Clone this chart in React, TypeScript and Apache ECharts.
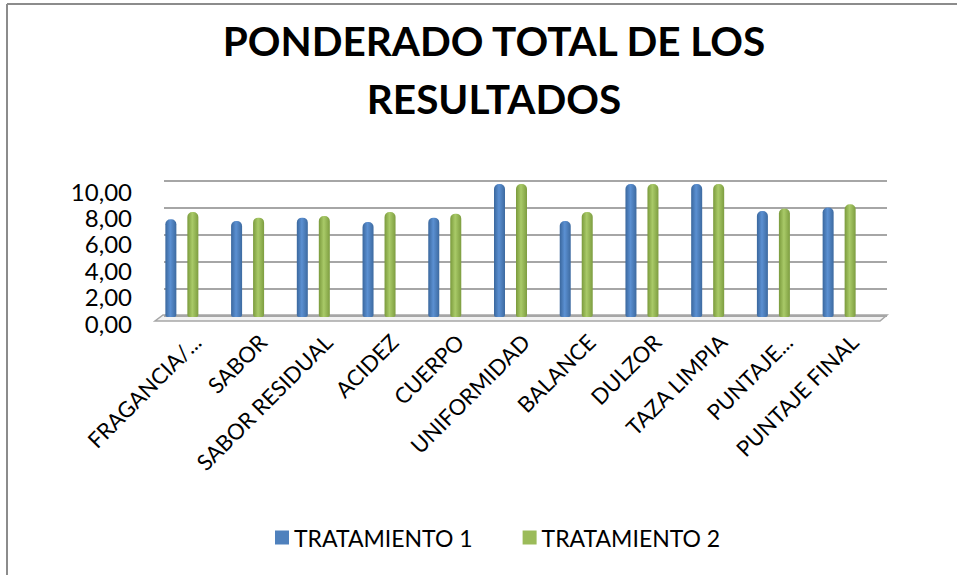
import React, { useEffect, useRef } from "react";
import * as echarts from "echarts";

const categories = [
  "FRAGANCIA/...",
  "SABOR",
  "SABOR RESIDUAL",
  "ACIDEZ",
  "CUERPO",
  "UNIFORMIDAD",
  "BALANCE",
  "DULZOR",
  "TAZA LIMPIA",
  "PUNTAJE...",
  "PUNTAJE FINAL",
];
const tratamiento1 = [7.35, 7.21, 7.47, 7.14, 7.47, 10, 7.21, 10, 10, 7.97, 8.23];
const tratamiento2 = [7.9, 7.47, 7.59, 7.9, 7.77, 10, 7.9, 10, 10, 8.15, 8.48];
const seriesNames = ["TRATAMIENTO 1", "TRATAMIENTO 2"];
const seriesColors = ["#4F81BD", "#9BBB59"];
const titleText = "PONDERADO TOTAL DE LOS\nRESULTADOS";

const FONT = "Lato";

function cyl(edge: string, mid: string, edge2: string) {
  return new echarts.graphic.LinearGradient(0, 0, 1, 0, [
    { offset: 0, color: edge },
    { offset: 0.45, color: mid },
    { offset: 1, color: edge2 },
  ]);
}

export default function App() {
  const ref = useRef<HTMLDivElement>(null);
  useEffect(() => {
    if (!ref.current) return;
    const chart = echarts.init(ref.current, undefined, { renderer: "svg" });
    const hiddenCat = {
      type: "category",
      data: categories,
      axisLine: { show: false },
      axisTick: { show: false },
      axisLabel: { show: false },
    };
    chart.setOption({
      animation: false,
      backgroundColor: "#ffffff",
      color: seriesColors,
      title: {
        text: titleText,
        left: 489,
        top: 6,
        textAlign: "center",
        textStyle: {
          fontFamily: FONT,
          fontWeight: "bold",
          fontSize: 40.5,
          lineHeight: 58,
          color: "#000",
        },
      },
      legend: {
        bottom: 21,
        left: 270,
        itemWidth: 14,
        itemHeight: 14,
        itemGap: 50,
        icon: "rect",
        textStyle: { fontFamily: FONT, fontSize: 23, color: "#000" },
        data: seriesNames.map((n, i) => ({
          name: n,
          itemStyle: { color: seriesColors[i] },
        })),
      },
      grid: [
        { left: 149, right: 85, top: 184, bottom: 258, containLabel: false },
        { left: 164, right: 70, top: 181, bottom: 259, containLabel: false },
        { left: 149, right: 85, top: 191, bottom: 252, containLabel: false },
      ],
      xAxis: [
        { ...hiddenCat, gridIndex: 0 },
        {
          type: "category",
          gridIndex: 1,
          data: categories,
          axisLine: { show: false },
          axisTick: { show: false },
          axisLabel: {
            interval: 0,
            rotate: 45,
            margin: 22,
            fontFamily: FONT,
            fontSize: 22,
            color: "#000",
          },
        },
        { ...hiddenCat, gridIndex: 2 },
      ],
      yAxis: [
        {
          type: "value",
          gridIndex: 0,
          min: 0,
          max: 10,
          interval: 2,
          axisLine: { show: false },
          axisTick: { show: false },
          splitLine: { show: false },
          axisLabel: { show: false },
        },
        {
          type: "value",
          gridIndex: 1,
          min: 0,
          max: 10,
          interval: 2,
          axisLine: { show: false },
          axisTick: { show: false },
          axisLabel: { show: false },
          splitLine: { lineStyle: { color: "#a6a6a6", width: 2 } },
        },
        {
          type: "value",
          gridIndex: 2,
          min: 0,
          max: 10,
          interval: 2,
          axisLine: { show: false },
          axisTick: { show: false },
          splitLine: { show: false },
          axisLabel: {
            margin: 17,
            fontFamily: FONT,
            fontSize: 24,
            lineHeight: 20,
            showMinLabel: true,
            showMaxLabel: true,
            color: "#000",
            formatter: (v: number) => v.toFixed(2).replace(".", ","),
          },
        },
      ],
      graphic: [
        {
          type: "line",
          shape: { x1: 7, y1: 4, x2: 957, y2: 4 },
          style: { stroke: "#8c8c8c", lineWidth: 2 },
        },
        {
          type: "line",
          shape: { x1: 7, y1: 4, x2: 7, y2: 575 },
          style: { stroke: "#8c8c8c", lineWidth: 2 },
        },
        {
          type: "polygon",
          shape: { points: [[155, 321], [880, 321], [887, 315], [163, 315]] },
          style: { fill: "#f2f2f2", stroke: "#a6a6a6", lineWidth: 1.5 },
          z: -1,
        },
      ],
      series: [
        {
          name: seriesNames[0],
          type: "bar",
          xAxisIndex: 0,
          yAxisIndex: 0,
          data: tratamiento1,
          barWidth: 11,
          barGap: "100%",
          itemStyle: {
            color: cyl("#3a679d", "#5b90d2", "#3d6aa0"),
            borderRadius: [5, 5, 2, 2],
          },
          z: 3,
        },
        {
          name: seriesNames[1],
          type: "bar",
          xAxisIndex: 0,
          yAxisIndex: 0,
          data: tratamiento2,
          barWidth: 11,
          barGap: "100%",
          itemStyle: {
            color: cyl("#7a9a3c", "#a9ca68", "#7d9d40"),
            borderRadius: [5, 5, 2, 2],
          },
          z: 3,
        },
      ],
    });
    return () => chart.dispose();
  }, []);
  return (
    <div
      ref={ref}
      style={{ position: "fixed", left: 0, top: 0, width: 957, height: 575 }}
    />
  );
}
